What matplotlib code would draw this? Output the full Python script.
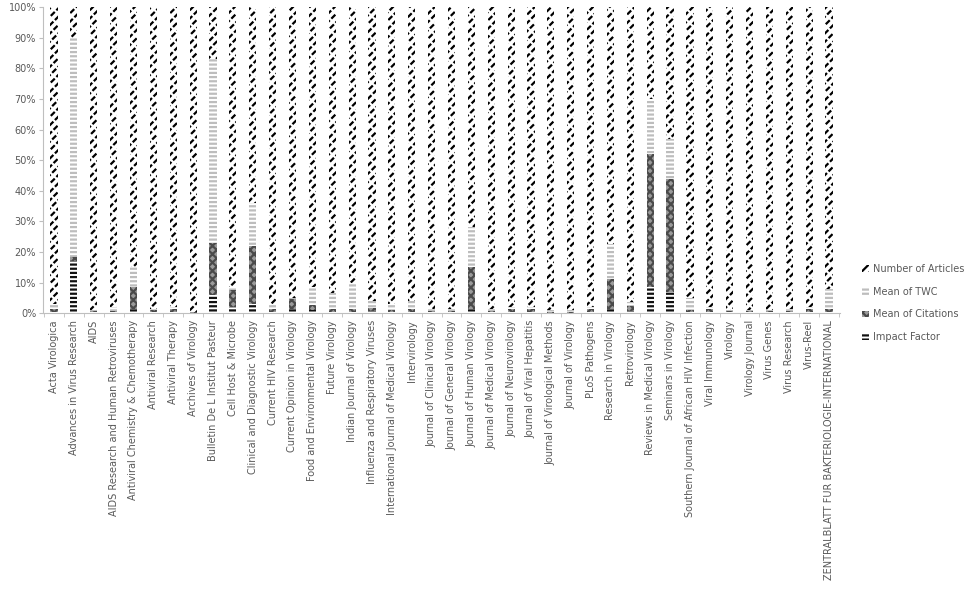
import numpy as np
import matplotlib
matplotlib.use("Agg")
import matplotlib.pyplot as plt

journals = [
    "Acta Virologica", "Advances in Virus Research", "AIDS",
    "AIDS Research and Human Retroviruses", "Antiviral Chemistry & Chemotherapy",
    "Antiviral Research", "Antiviral Therapy", "Archives of Virology",
    "Bulletin De L Institut Pasteur", "Cell Host & Microbe",
    "Clinical and Diagnostic Virology", "Current HIV Research",
    "Current Opinion in Virology", "Food and Environmental Virology",
    "Future Virology", "Indian Journal of Virology",
    "Influenza and Respiratory Viruses", "International Journal of Medical Virology",
    "Intervirology", "Journal of Clinical Virology", "Journal of General Virology",
    "Journal of Human Virology", "Journal of Medical Virology",
    "Journal of Neurovirology", "Journal of Viral Hepatitis",
    "Journal of Virological Methods", "Journal of Virology", "PLoS Pathogens",
    "Research in Virology", "Retrovirology", "Reviews in Medical Virology",
    "Seminars in Virology", "Southern Journal of African HIV Infection",
    "Viral Immunology", "Virology", "Virology Journal", "Virus Genes",
    "Virus Research", "Virus-Reel", "ZENTRALBLATT FUR BAKTERIOLOGIE-INTERNATIONAL",
]

# shares in percent
impact_factor = [0.5, 17.0, 0.4, 0.3, 1.5, 0.5, 0.5, 0.1, 6.0, 2.0,
                 3.0, 0.5, 1.5, 1.0, 0.5, 0.3, 0.7, 0.3, 0.5, 0.3,
                 0.3, 1.5, 0.3, 0.5, 0.5, 0.2, 0.2, 0.5, 1.5, 0.8,
                 8.5, 7.0, 0.3, 0.5, 0.3, 0.3, 0.3, 0.3, 0.5, 0.5]
mean_citations = [0.8, 1.3, 0.3, 0.4, 7.0, 0.5, 0.7, 0.2, 17.0, 5.5,
                  19.0, 0.8, 3.0, 1.5, 1.0, 1.0, 1.0, 0.7, 0.8, 0.5,
                  0.5, 13.5, 0.5, 0.7, 0.7, 0.3, 0.3, 0.7, 9.7, 1.5,
                  43.5, 37.0, 0.7, 0.7, 0.3, 0.3, 0.3, 0.5, 0.7, 1.0]
mean_twc = [1.7, 71.7, 0.3, 1.3, 6.5, 0.5, 0.8, 0.2, 60.0, 1.0,
            14.0, 1.7, 0.5, 6.0, 5.0, 8.7, 2.3, 2.0, 2.7, 0.7,
            0.7, 13.0, 0.7, 0.8, 0.8, 0.5, 0.5, 0.8, 11.3, 1.2,
            18.0, 13.0, 4.0, 0.8, 0.4, 0.4, 0.4, 0.7, 0.8, 6.5]
num_articles = [97.0, 10.0, 99.0, 98.0, 85.0, 98.5, 98.0, 99.5, 17.0, 91.5,
                64.0, 97.0, 95.0, 91.5, 93.5, 90.0, 96.0, 97.0, 96.0, 98.5,
                98.5, 72.0, 98.5, 98.0, 98.0, 99.0, 99.0, 98.0, 77.5, 96.5,
                30.0, 43.0, 95.0, 98.0, 99.0, 99.0, 99.0, 98.5, 98.0, 92.0]

grey = "#595959"
plt.rcParams["font.family"] = "DejaVu Sans"
plt.rcParams["hatch.linewidth"] = 1.6

fig = plt.figure(figsize=(9.79, 6.01), dpi=100)
ax = fig.add_axes([0.044, 0.479, 0.814, 0.509])

x = np.arange(len(journals))
w = 0.36
series = [
    ("Impact Factor", impact_factor, dict(color="white", edgecolor="#111111", hatch="----")),
    ("Mean of Citations", mean_citations, dict(color="#9a9a9a", edgecolor="#4a4a4a", hatch="xxxx")),
    ("Mean of TWC", mean_twc, dict(color="white", edgecolor="#bdbdbd", hatch="----")),
    ("Number of Articles", num_articles, dict(color="white", edgecolor="black", hatch="////")),
]

bottom = np.zeros(len(journals))
handles = []
for name, vals, style in series:
    vals = np.array(vals)
    b = ax.bar(x, vals, w, bottom=bottom, linewidth=0, label=name, **style)
    handles.append(b)
    bottom += vals

# break the article diagonals into short dashes like the original pattern
art_bottom = bottom - np.array(num_articles)
ax.bar(x, num_articles, w, bottom=art_bottom, linewidth=0, color="none",
       edgecolor="white", hatch="\\\\\\")

ax.set_ylim(0, 100)
ax.set_xlim(-0.55, len(journals) - 0.45)
ax.set_yticks(np.arange(0, 101, 10))
ax.set_yticklabels([f"{v}%" for v in range(0, 101, 10)], fontsize=7, color=grey)
ax.set_xticks(x)
ax.set_xticklabels(journals, rotation=90, fontsize=7, color=grey)
ax.tick_params(axis="x", length=0, pad=5)
ax.tick_params(axis="y", length=3, color="#bfbfbf", pad=2)
ax.set_xticks(np.arange(-0.5, len(journals), 1), minor=True)
ax.tick_params(axis="x", which="minor", length=3, color="#bfbfbf")

for s in ["top", "right"]:
    ax.spines[s].set_visible(False)
ax.spines["left"].set_color("#bfbfbf")
ax.spines["bottom"].set_color("#bfbfbf")

leg = fig.legend(handles[::-1], [s[0] for s in series][::-1],
                 loc="upper left", bbox_to_anchor=(0.872, 0.575),
                 frameon=False, fontsize=7, handlelength=0.7, handleheight=0.7,
                 handletextpad=0.4, labelspacing=1.3, labelcolor=grey)

fig.savefig("out.png", dpi=100)
